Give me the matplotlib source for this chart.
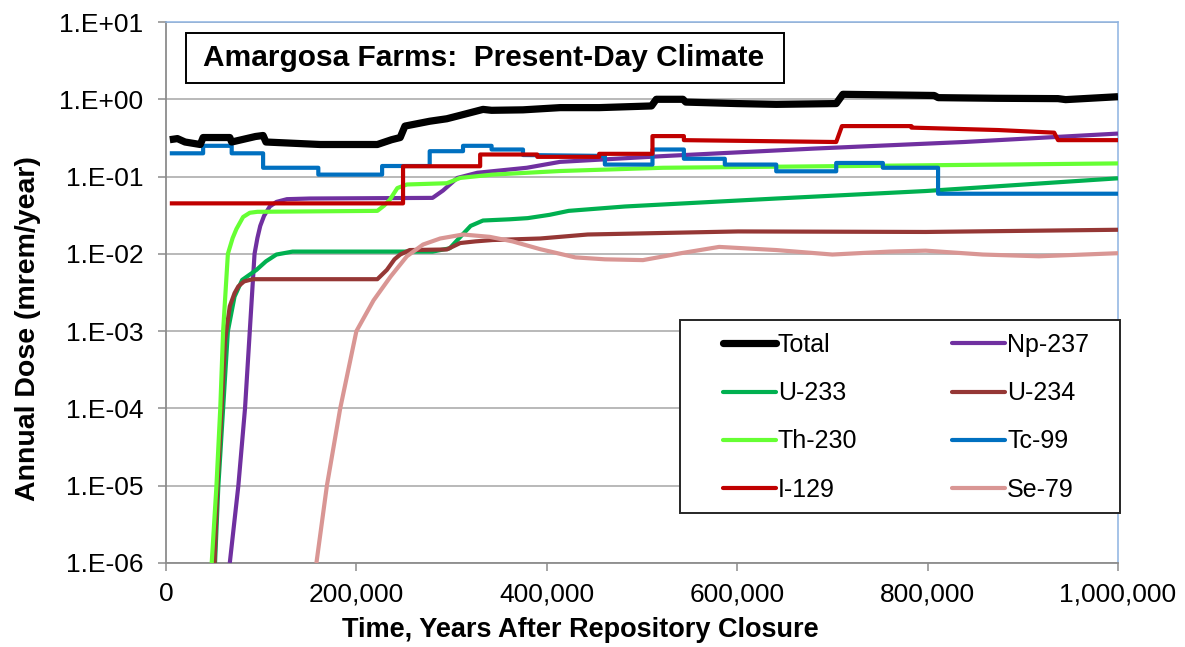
import math
import matplotlib
matplotlib.use("Agg")
import matplotlib.pyplot as plt
from matplotlib.ticker import FixedLocator, FuncFormatter, NullLocator
from matplotlib.patches import Rectangle
from matplotlib.lines import Line2D

plt.rcParams['font.family'] = ['Liberation Sans', 'DejaVu Sans']

# ---- dose histories: time in thousands of years, annual dose in mrem/yr ----
total_t = [4, 12, 20, 36, 39, 67, 69, 94, 102, 105, 162, 222, 237, 246, 251, 277,
           295, 309, 333, 342, 375, 414, 455, 510, 515, 543, 546, 600, 641, 704,
           711, 760, 807, 811, 873, 937, 945, 1000]
total_v = [0.30, 0.31, 0.28, 0.26, 0.32, 0.32, 0.28, 0.33, 0.34, 0.28, 0.26, 0.26,
           0.30, 0.32, 0.45, 0.52, 0.56, 0.62, 0.74, 0.72, 0.73, 0.78, 0.78, 0.82,
           1.0, 1.0, 0.92, 0.88, 0.86, 0.88, 1.16, 1.14, 1.12, 1.05, 1.03, 1.02,
           0.99, 1.08]

np237_t = [67, 76, 83, 88, 93, 96, 99, 103, 109, 116, 127, 151, 280, 291, 306,
           327, 379, 414, 522, 680, 838, 1000]
np237_v = [1e-6, 1e-5, 1e-4, 1e-3, 1e-2, 0.016, 0.023, 0.031, 0.041, 0.047, 0.051,
           0.052, 0.053, 0.066, 0.096, 0.112, 0.13, 0.155, 0.184, 0.23, 0.28, 0.36]

u233_t = [51.5, 55, 60, 65, 72, 80, 95, 105, 116, 133, 280, 298, 309, 320, 333,
          361, 380, 403, 423, 482, 641, 798, 1000]
u233_v = [1e-6, 1e-5, 1e-4, 1e-3, 0.0028, 0.0046, 0.0062, 0.0080, 0.0098, 0.0107,
          0.0107, 0.0118, 0.0165, 0.023, 0.027, 0.028, 0.029, 0.032, 0.036, 0.041,
          0.052, 0.065, 0.095]

u234_t = [51, 54, 58.5, 62, 67, 72, 76, 82, 91, 222, 232, 240, 246, 256, 295, 309,
          325, 343, 393, 443, 601, 798, 1000]
u234_v = [1e-6, 1e-5, 1.05e-4, 7.6e-4, 0.0021, 0.0031, 0.0038, 0.0044, 0.0047,
          0.0047, 0.0062, 0.0085, 0.0098, 0.0112, 0.0114, 0.0138, 0.0145, 0.0151,
          0.0158, 0.0178, 0.0195, 0.0192, 0.0205]

th230_t = [48, 53, 57, 60, 65, 70, 74, 81, 88, 96, 222, 229, 235, 243, 253, 295,
           309, 343, 414, 522, 720, 1000]
th230_v = [1e-6, 1e-5, 1e-4, 1e-3, 1e-2, 0.016, 0.021, 0.030, 0.034, 0.035, 0.036,
           0.042, 0.05, 0.071, 0.079, 0.082, 0.096, 0.106, 0.118, 0.13, 0.137, 0.148]

tc99_t = [4, 39, 39, 69, 69, 102, 102, 160, 160, 227, 227, 277, 277, 312, 312, 342,
          342, 375, 375, 461, 461, 511, 511, 544, 544, 587, 587, 641, 641, 704, 704,
          753, 753, 811, 811, 1000]
tc99_v = [0.20, 0.20, 0.25, 0.25, 0.20, 0.20, 0.13, 0.13, 0.106, 0.106, 0.137, 0.137,
          0.213, 0.213, 0.25, 0.25, 0.224, 0.224, 0.19, 0.185, 0.143, 0.143, 0.224,
          0.224, 0.17, 0.17, 0.143, 0.143, 0.117, 0.117, 0.15, 0.15, 0.13, 0.13,
          0.06, 0.06]

i129_t = [4, 249, 249, 330, 330, 390, 390, 455, 455, 511, 511, 544, 544, 704, 710,
          783, 783, 874, 933, 937, 1000]
i129_v = [0.045, 0.045, 0.136, 0.136, 0.193, 0.193, 0.18, 0.18, 0.197, 0.197, 0.334,
          0.334, 0.296, 0.28, 0.45, 0.45, 0.43, 0.40, 0.37, 0.296, 0.296]

se79_t = [158, 169, 183, 200, 218, 236, 253, 270, 288, 312, 340, 364, 393, 430, 461,
          501, 541, 581, 641, 700, 760, 798, 858, 917, 1000]
se79_v = [1e-6, 1e-5, 1e-4, 1e-3, 0.0025, 0.0051, 0.0093, 0.0132, 0.0158, 0.0178,
          0.0166, 0.0145, 0.0115, 0.0090, 0.0085, 0.0083, 0.0102, 0.0123, 0.0112,
          0.0098, 0.0107, 0.0110, 0.0098, 0.0093, 0.0102]

series = [
    ("Np-237", np237_t, np237_v, "#7030A0", 3.0),
    ("U-233", u233_t, u233_v, "#00B050", 3.0),
    ("U-234", u234_t, u234_v, "#953735", 3.0),
    ("Th-230", th230_t, th230_v, "#66FF33", 3.0),
    ("Tc-99", tc99_t, tc99_v, "#0070C0", 3.0),
    ("I-129", i129_t, i129_v, "#C00000", 3.0),
    ("Se-79", se79_t, se79_v, "#D99694", 3.0),
    ("Total", total_t, total_v, "#000000", 5.2),
]

y_exponents = [-6, -5, -4, -3, -2, -1, 0, 1]
x_ticks = [0, 200000, 400000, 600000, 800000, 1000000]

W, H = 1185, 647
fig = plt.figure(figsize=(W / 100, H / 100), dpi=100)
ax = fig.add_axes([166 / W, 1 - 563 / H, 952 / W, 541 / H])

handles = {}
for name, t, v, color, lw in series:
    (ln,) = ax.plot([k * 1000 for k in t], v, color=color, lw=lw,
                    solid_joinstyle='round', solid_capstyle='butt', zorder=3)
    handles[name] = ln

ax.set_yscale('log')
ax.set_ylim(10.0 ** y_exponents[0], 10.0 ** y_exponents[-1])
ax.set_xlim(x_ticks[0], x_ticks[-1])
ax.yaxis.set_major_locator(FixedLocator([10.0 ** e for e in y_exponents]))
ax.yaxis.set_minor_locator(NullLocator())
ax.yaxis.set_major_formatter(FuncFormatter(
    lambda v, p: "1.E{:+03d}".format(int(round(math.log10(v))))))
ax.xaxis.set_major_locator(FixedLocator(x_ticks))
ax.xaxis.set_major_formatter(FuncFormatter(lambda v, p: "{:,}".format(int(v))))

ax.yaxis.grid(True, color='#a6a6a6', lw=1.1)
ax.set_axisbelow(True)

ax.tick_params(axis='both', direction='out', length=5.8, width=1.1,
               color='#8c8c8c', labelsize=19, labelcolor='black')
ax.tick_params(axis='y', pad=10.5)
ax.tick_params(axis='x', pad=8)

for side in ('left', 'bottom'):
    ax.spines[side].set_color('#8c8c8c')
    ax.spines[side].set_linewidth(1.3)
for side in ('top', 'right'):
    ax.spines[side].set_color('#8db3e2')
    ax.spines[side].set_linewidth(1.1)

# axis titles
fig.text(580 / W, 1 - 630 / H, "Time, Years After Repository Closure",
         ha='center', va='center', fontsize=19.5, fontweight='bold')
fig.text(28 / W, 1 - 329 / H, "Annual Dose (mrem/year)", rotation=90,
         ha='center', va='center', fontsize=20.5, fontweight='bold')

# boxed chart title
fig.patches.append(Rectangle((186 / W, 1 - 83 / H), 598 / W, 50 / H,
                             transform=fig.transFigure, facecolor='white',
                             edgecolor='black', lw=1.4, zorder=4))
fig.text(484 / W, 1 - 58 / H, "Amargosa Farms:  Present-Day Climate",
         ha='center', va='center', fontsize=21.5, fontweight='bold', zorder=5)

# legend: framed box with two columns of entries
fig.patches.append(Rectangle((680 / W, 1 - 513 / H), 440 / W, 193 / H,
                             transform=fig.transFigure, facecolor='white',
                             edgecolor='#262626', lw=1.4, zorder=4))
col1 = ["Total", "U-233", "Th-230", "I-129"]
col2 = ["Np-237", "U-234", "Tc-99", "Se-79"]


def legend_handle(name):
    h = handles[name]
    return Line2D([], [], color=h.get_color(), lw=h.get_linewidth(),
                  solid_capstyle='round')


for names, x_px in ((col1, 723), (col2, 952)):
    leg = fig.legend([legend_handle(n) for n in names], names,
                     loc='upper left', bbox_to_anchor=(x_px / W, 1 - 333 / H),
                     frameon=False, fontsize=18, borderpad=0, borderaxespad=0,
                     handlelength=2.1, handletextpad=0.1, labelspacing=0.97)
    leg.set_zorder(6)

fig.savefig("out.png", dpi=100)
